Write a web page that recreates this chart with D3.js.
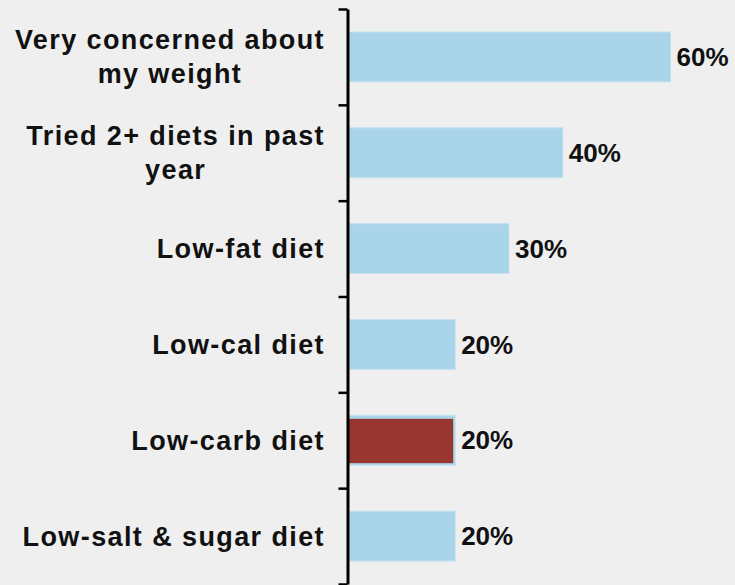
<!DOCTYPE html>
<html>
<head>
<meta charset="utf-8">
<script src="https://cdn.jsdelivr.net/npm/d3@7"></script>
<style>
  html, body { margin: 0; padding: 0; background: #efefef; }
  svg { display: block; }
</style>
</head>
<body>
<svg id="chart" width="735" height="585"></svg>
<script>
const categories = [
  "Very concerned about\nmy weight",
  "Tried 2+ diets in past\nyear",
  "Low-fat diet",
  "Low-cal diet",
  "Low-carb diet",
  "Low-salt & sugar diet"
];
const values = [60, 40, 30, 20, 20, 20];
const highlighted = [false, false, false, false, true, false];
const valueLabels = ["60%", "40%", "30%", "20%", "20%", "20%"];

const W = 735, H = 585;
const axisX = 347.5;
const svg = d3.select("#chart");
svg.append("rect").attr("width", W).attr("height", H).attr("fill", "#efefef");

const x = d3.scaleLinear().domain([0, 60]).range([axisX, 670.5]);
const y = d3.scaleBand().domain(categories).range([9, 584])
  .paddingInner(0.48).paddingOuter(0.24);
const yEdges = d3.scaleLinear().domain([0, categories.length]).range([9, 584]);

const g = svg.append("g");

// bars
g.selectAll("rect.bar").data(categories).enter().append("rect")
  .attr("class", "bar")
  .attr("x", x(0))
  .attr("y", d => y(d))
  .attr("width", (d, i) => x(values[i]) - x(0))
  .attr("height", y.bandwidth())
  .attr("fill", "#aad4e9")
  .attr("stroke", "#c3e1f0")
  .attr("stroke-width", 1);

g.selectAll("rect.hl").data(categories.filter((d, i) => highlighted[i])).enter().append("rect")
  .attr("class", "hl")
  .attr("x", x(0))
  .attr("y", d => y(d) + 3.5)
  .attr("width", d => x(values[categories.indexOf(d)]) - x(0) - 2)
  .attr("height", y.bandwidth() - 5.5)
  .attr("fill", "#973730");

// axis
const axis = d3.axisLeft(yEdges).tickValues(d3.range(0, categories.length + 1))
  .tickSize(9).tickSizeOuter(0).tickFormat("");
const ax = svg.append("g").attr("transform", `translate(${axisX},0)`).call(axis);
ax.select(".domain").attr("stroke", "#000").attr("stroke-width", 3);
ax.selectAll(".tick line").attr("stroke", "#000").attr("stroke-width", 2.5);

// value labels
g.selectAll("text.val").data(categories).enter().append("text")
  .attr("class", "val")
  .attr("x", (d, i) => x(values[i]) + 6)
  .attr("y", d => y(d) + y.bandwidth() / 2)
  .attr("dy", "0.35em")
  .attr("font-family", "Liberation Sans, Arial, sans-serif")
  .attr("font-weight", "bold")
  .attr("font-size", 26)
  .attr("fill", "#111")
  .text((d, i) => valueLabels[i]);

// category labels
const rightEdge = 325;
const lineH = 34;
categories.forEach(cat => {
  const lines = cat.split("\n");
  const cy = y(cat) + y.bandwidth() / 2;
  const t = svg.append("text")
    .attr("font-family", "Liberation Sans, Arial, sans-serif")
    .attr("font-weight", "bold")
    .attr("font-size", 27)
    .attr("letter-spacing", "1.4px")
    .attr("fill", "#111");
  const spans = lines.map((ln, k) => t.append("tspan")
    .attr("y", cy + (k - (lines.length - 1) / 2) * lineH)
    .attr("dy", "0.35em")
    .text(ln));
  const maxW = d3.max(spans, s => s.node().getComputedTextLength());
  if (lines.length > 1) {
    t.attr("text-anchor", "middle");
    spans.forEach(s => s.attr("x", rightEdge - maxW / 2));
  } else {
    t.attr("text-anchor", "end");
    spans.forEach(s => s.attr("x", rightEdge));
  }
});
</script>
</body>
</html>
